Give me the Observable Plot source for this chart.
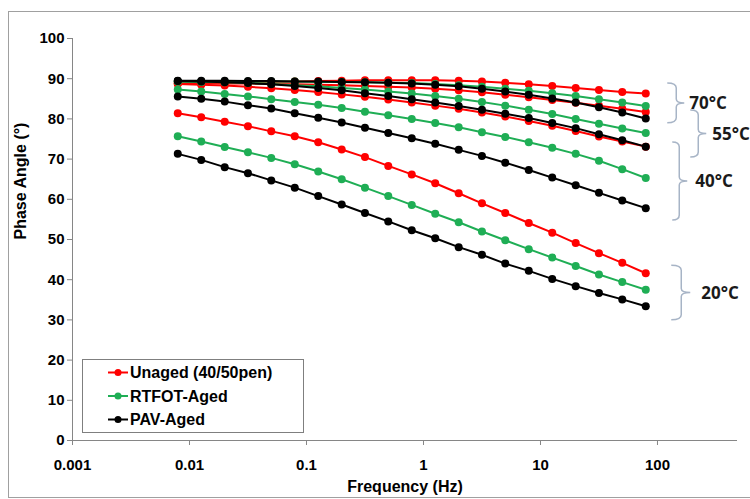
<!DOCTYPE html>
<html><head><meta charset="utf-8">
<script src="https://cdn.jsdelivr.net/npm/d3@7"></script>
<script src="https://cdn.jsdelivr.net/npm/@observablehq/plot@0.6"></script>
<style>
html,body{margin:0;padding:0;background:#fff;}
#chart svg{display:block;}
</style>
</head><body><div id="chart"></div>
<script>
// ---------- data ----------
const frequencies = [0.00794, 0.0126, 0.02, 0.0316, 0.05, 0.0794, 0.126, 0.2, 0.316, 0.5, 0.794, 1.26, 2, 3.16, 5, 7.94, 12.6, 20, 31.6, 50, 79.4];
const binders = ["Unaged (40/50pen)", "RTFOT-Aged", "PAV-Aged"];
const temperatures = ["20°C", "40°C", "55°C", "70°C"];

const unaged20 = [81.4, 80.4, 79.3, 78.2, 76.9, 75.7, 74.2, 72.4, 70.5, 68.3, 66.2, 64.0, 61.5, 59.0, 56.6, 54.1, 51.7, 49.1, 46.6, 44.2, 41.6];
const rtfot20  = [75.7, 74.4, 73.0, 71.7, 70.3, 68.7, 66.9, 65.0, 62.9, 60.8, 58.6, 56.4, 54.3, 52.0, 49.8, 47.6, 45.5, 43.4, 41.3, 39.4, 37.5];
const pav20    = [71.3, 69.8, 68.0, 66.5, 64.7, 62.9, 60.8, 58.7, 56.6, 54.5, 52.3, 50.3, 48.1, 46.2, 44.0, 42.2, 40.2, 38.4, 36.7, 35.1, 33.4];

const unaged40 = [88.7, 88.5, 88.3, 88.0, 87.6, 87.2, 86.7, 86.1, 85.5, 84.8, 84.1, 83.3, 82.5, 81.6, 80.6, 79.5, 78.3, 77.0, 75.6, 74.4, 73.1];
const rtfot40  = [87.3, 86.8, 86.2, 85.6, 84.9, 84.2, 83.5, 82.7, 81.8, 80.9, 80.0, 79.0, 77.9, 76.7, 75.5, 74.2, 72.8, 71.3, 69.6, 67.5, 65.3];
const pav40    = [85.6, 85.0, 84.3, 83.4, 82.6, 81.4, 80.3, 79.1, 77.8, 76.5, 75.2, 73.8, 72.3, 70.8, 69.1, 67.3, 65.4, 63.5, 61.6, 59.7, 57.8];

const unaged55 = [88.9, 88.9, 88.8, 88.8, 88.7, 88.6, 88.5, 88.4, 88.2, 88.0, 87.8, 87.5, 87.1, 86.6, 86.0, 85.4, 84.7, 84.0, 83.3, 82.5, 81.7];
const rtfot55  = [89.3, 89.2, 89.1, 88.9, 88.7, 88.4, 88.1, 87.7, 87.3, 86.8, 86.3, 85.7, 85.0, 84.2, 83.3, 82.3, 81.2, 80.0, 78.8, 77.6, 76.5];
const pav55    = [89.4, 89.3, 89.1, 88.9, 88.6, 88.2, 87.7, 87.1, 86.4, 85.7, 84.9, 84.1, 83.2, 82.3, 81.3, 80.2, 79.0, 77.7, 76.2, 74.7, 73.1];

const unaged70 = [88.8, 88.9, 89.0, 89.1, 89.2, 89.3, 89.4, 89.5, 89.6, 89.6, 89.6, 89.6, 89.5, 89.3, 89.0, 88.6, 88.2, 87.7, 87.2, 86.7, 86.3];
const rtfot70  = [89.3, 89.3, 89.3, 89.3, 89.3, 89.3, 89.2, 89.2, 89.1, 89.0, 88.9, 88.7, 88.4, 88.0, 87.5, 87.0, 86.4, 85.7, 84.9, 84.1, 83.2];
const pav70    = [89.5, 89.5, 89.5, 89.4, 89.4, 89.3, 89.3, 89.2, 89.1, 89.0, 88.8, 88.5, 88.1, 87.5, 86.8, 86.0, 85.1, 84.1, 82.9, 81.6, 80.1];

// temperature brackets (phase-angle range each bracket spans)
const bracketLabels = ["70°C", "55°C", "40°C", "20°C"];
const bracketTop    = [88.8, 82.1, 74.1, 43.5];
const bracketBottom = [78.9, 70.4, 54.7, 29.9];

const xTicks = [0.001, 0.01, 0.1, 1, 10, 100];
const xTickLabels = ["0.001", "0.01", "0.1", "1", "10", "100"];
const yTicks = [0, 10, 20, 30, 40, 50, 60, 70, 80, 90, 100];

// ---------- build table ----------
const seriesByBinder = [
  [unaged20, unaged40, unaged55, unaged70],
  [rtfot20, rtfot40, rtfot55, rtfot70],
  [pav20, pav40, pav55, pav70]
];
const rows = [];
binders.forEach((b, bi) => {
  temperatures.forEach((t, ti) => {
    seriesByBinder[bi][ti].forEach((v, k) => rows.push({binder: b, temp: t, freq: frequencies[k], phase: v}));
  });
});

// ---------- styles ----------
const colors = ["#ff0000", "#1fae55", "#000000"];
const axisGray = "#868686";
const bracketColor = "#a7b4c6";
// per-bracket horizontal offsets (px) from the last data point: hook start, spine, tip, label
const bracketGeom = [
  [22, 31, 39, 44],
  [45, 53, 61, 67],
  [27, 34, 42, 50],
  [26, 36, 45, 56]
];

function frameBorder(index, scales, values, dims) {
  const g = d3.create("svg:g");
  g.append("rect").attr("x", 8.5).attr("y", 11.5)
    .attr("width", dims.width + 20).attr("height", dims.height - 13)
    .attr("fill", "none").attr("stroke", "#a0a0a0").attr("stroke-width", 1);
  return g.node();
}

function bracketMark(index, scales, values, dims) {
  const g = d3.create("svg:g");
  const xLast = scales.x(frequencies[frequencies.length - 1]);
  bracketLabels.forEach((lab, i) => {
    const [h, s, t, l] = bracketGeom[i].map(o => xLast + o);
    const yt = scales.y(bracketTop[i]), yb = scales.y(bracketBottom[i]);
    const ym = (yt + yb) / 2;
    const p = `M${h},${yt} Q${s},${yt} ${s},${yt + 5} V${ym - 4} Q${s},${ym} ${t},${ym} Q${s},${ym} ${s},${ym + 4} V${yb - 5} Q${s},${yb} ${h},${yb}`;
    g.append("path").attr("d", p).attr("fill", "none").attr("stroke", bracketColor).attr("stroke-width", 1.5);
    g.append("text").attr("x", l).attr("y", ym).attr("dy", "0.36em")
      .attr("text-anchor", "start")
      .attr("font-family", "'Open Sans', Lato, sans-serif").attr("font-weight", 700)
      .attr("font-size", 17).attr("fill", "#1a1a1a").text(lab);
  });
  return g.node();
}

function legendMark(index, scales, values, dims) {
  const g = d3.create("svg:g");
  const left = dims.marginLeft + 10;
  const bottom = dims.height - dims.marginBottom - 8;
  const top = bottom - 73;
  g.append("rect").attr("x", left + 0.5).attr("y", top + 0.5).attr("width", 221).attr("height", 73)
    .attr("fill", "#fff").attr("stroke", "#7f7f7f").attr("stroke-width", 1);
  binders.forEach((b, i) => {
    const yy = top + 13.5 + i * 23.5;
    g.append("line").attr("x1", left + 26).attr("x2", left + 46).attr("y1", yy).attr("y2", yy)
      .attr("stroke", colors[i]).attr("stroke-width", 2);
    g.append("circle").attr("cx", left + 36).attr("cy", yy).attr("r", 3.5).attr("fill", colors[i]);
    g.append("text").attr("x", left + 48).attr("y", yy).attr("dy", "0.36em")
      .attr("text-anchor", "start")
      .attr("font-size", 16).attr("font-weight", "bold").attr("fill", "#000").text(b);
  });
  return g.node();
}

const seriesMarks = [];
binders.forEach((b, bi) => {
  const d = rows.filter(r => r.binder === b);
  seriesMarks.push(Plot.line(d, {x: "freq", y: "phase", z: "temp", stroke: colors[bi], strokeWidth: 2}));
  seriesMarks.push(Plot.dot(d, {x: "freq", y: "phase", r: 4, fill: colors[bi], stroke: "none"}));
});

const plot = Plot.plot({
  width: 750,
  height: 499,
  marginLeft: 72,
  marginRight: 13,
  marginTop: 38,
  marginBottom: 59,
  style: {fontFamily: "'Liberation Sans', Arial, sans-serif", fontWeight: "bold", fontSize: "15px", color: "#000", background: "#fff"},
  x: {type: "log", domain: [0.001, 483]},
  y: {domain: [0, 100]},
  marks: [
    frameBorder,
    Plot.ruleY([0], {stroke: axisGray}),
    Plot.ruleX([0.001], {stroke: axisGray}),
    Plot.axisX({ticks: xTicks, tickFormat: d => xTickLabels[xTicks.indexOf(d)], tickSize: 5, tickPadding: 14, stroke: axisGray, fill: "#000", label: null}),
    Plot.axisY({ticks: yTicks, tickSize: 5, tickPadding: 3, stroke: axisGray, fill: "#000", label: null}),
    ...seriesMarks,
    Plot.text(["Frequency (Hz)"], {text: d => d, frameAnchor: "bottom", dy: 51, fontSize: 16, fontWeight: "bold"}),
    Plot.text(["Phase Angle (°)"], {text: d => d, frameAnchor: "left", dx: -52, rotate: -90, fontSize: 16, fontWeight: "bold"}),
    bracketMark,
    legendMark
  ]
});
document.getElementById("chart").appendChild(plot);
</script>
</body></html>
